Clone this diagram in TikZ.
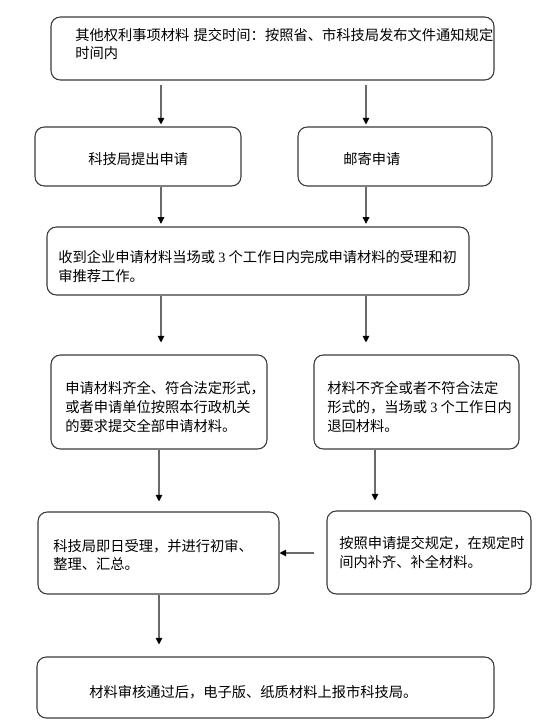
\documentclass[tikz,border=0pt]{standalone}
\usepackage{fontspec}
\newfontfamily\cjk{Noto Sans CJK SC}
\newfontfamily\serifnum{Liberation Serif}
\usetikzlibrary{arrows.meta,fit}
\definecolor{boxline}{HTML}{3A3A3A}
\definecolor{arrline}{HTML}{6A6A6A}
\tikzset{
  box/.style={draw=boxline, line width=0.8pt, rounded corners=7pt, inner sep=0pt},
  txt/.style={anchor=west, align=left, inner sep=0pt, text=black,
    font=\cjk\fontsize{10.7pt}{14pt}\selectfont},
  arr/.style={draw=arrline, line width=0.8pt,
    -{Triangle[length=5pt,width=5pt,color=black]}}
}
\newcommand{\num}[1]{{\serifnum #1}}
\begin{document}
\begin{tikzpicture}[x=0.75pt,y=-0.75pt]
\useasboundingbox (0,0) rectangle (546,721);
% boxes
\node[box, fit={(51,17) (494,80)}] (b1) {};
\node[box, fit={(35,127) (241,186)}] (b2) {};
\node[box, fit={(298,127) (492,186)}] (b3) {};
\node[box, fit={(47,227) (469,295)}] (b4) {};
\node[box, fit={(51,355) (267,449)}] (b5) {};
\node[box, fit={(314,355) (519,449)}] (b6) {};
\node[box, fit={(38,512) (279,594)}] (b7) {};
\node[box, fit={(327,511) (531,594)}] (b8) {};
\node[box, fit={(37,657) (494,718)}] (b9) {};
% texts
\node[txt] (t1) at (75,44) {其他权利事项材料\hspace{0.3em}提交时间：按照省、市科技局发布文件通知规定\\时间内};
\node[txt] (t2) at (88,159) {科技局提出申请};
\node[txt] (t3) at (343,159) {邮寄申请};
\node[txt] (t4) at (58,266.5) {收到企业申请材料当场或 \num{3} 个工作日内完成申请材料的受理和初\\审推荐工作。};
\node[txt] (t5) at (65,407) {申请材料齐全、符合法定形式，\\或者申请单位按照本行政机关\\的要求提交全部申请材料。};
\node[txt] (t6) at (327,407) {材料不齐全或者不符合法定\\形式的，当场或 \num{3} 个工作日内\\退回材料。};
\node[txt] (t7) at (53,555) {科技局即日受理，并进行初审、\\整理、汇总。};
\node[txt] (t8) at (339,552.5) {按照申请提交规定，在规定时\\间内补齐、补全材料。};
\node[txt] (t9) at (89,692) {材料审核通过后，电子版、纸质材料上报市科技局。};
% columns
\coordinate (cL) at (161,0);
\coordinate (cR) at (366,0);
\coordinate (cL2) at (159,0);
\coordinate (cR2) at (375,0);
% arrows
\draw[arr, shorten <=3.5pt, shorten >=1.5pt] (b1.south -| cL) -- (b2.north -| cL);
\draw[arr, shorten <=3.5pt, shorten >=1.5pt] (b1.south -| cR) -- (b3.north -| cR);
\draw[arr, shorten >=2pt] (b2.south -| cL) -- (b4.north -| cL);
\draw[arr, shorten >=2pt] (b3.south -| cR) -- (b4.north -| cR);
\draw[arr, shorten >=9pt] (b4.south -| cL) -- (b5.north -| cL);
\draw[arr, shorten >=9pt] (b4.south -| cR) -- (b6.north -| cR);
\draw[arr, shorten >=7.5pt] (b5.south -| cL2) -- (b7.north -| cL2);
\draw[arr, shorten >=7.5pt] (b6.south -| cR2) -- (b8.north -| cR2);
\draw[arr, shorten <=9pt] (b8.west |- 0,553) -- (b7.east |- 0,553);
\draw[arr, shorten >=9pt] (b7.south -| cL2) -- (b9.north -| cL2);
\end{tikzpicture}
\end{document}
